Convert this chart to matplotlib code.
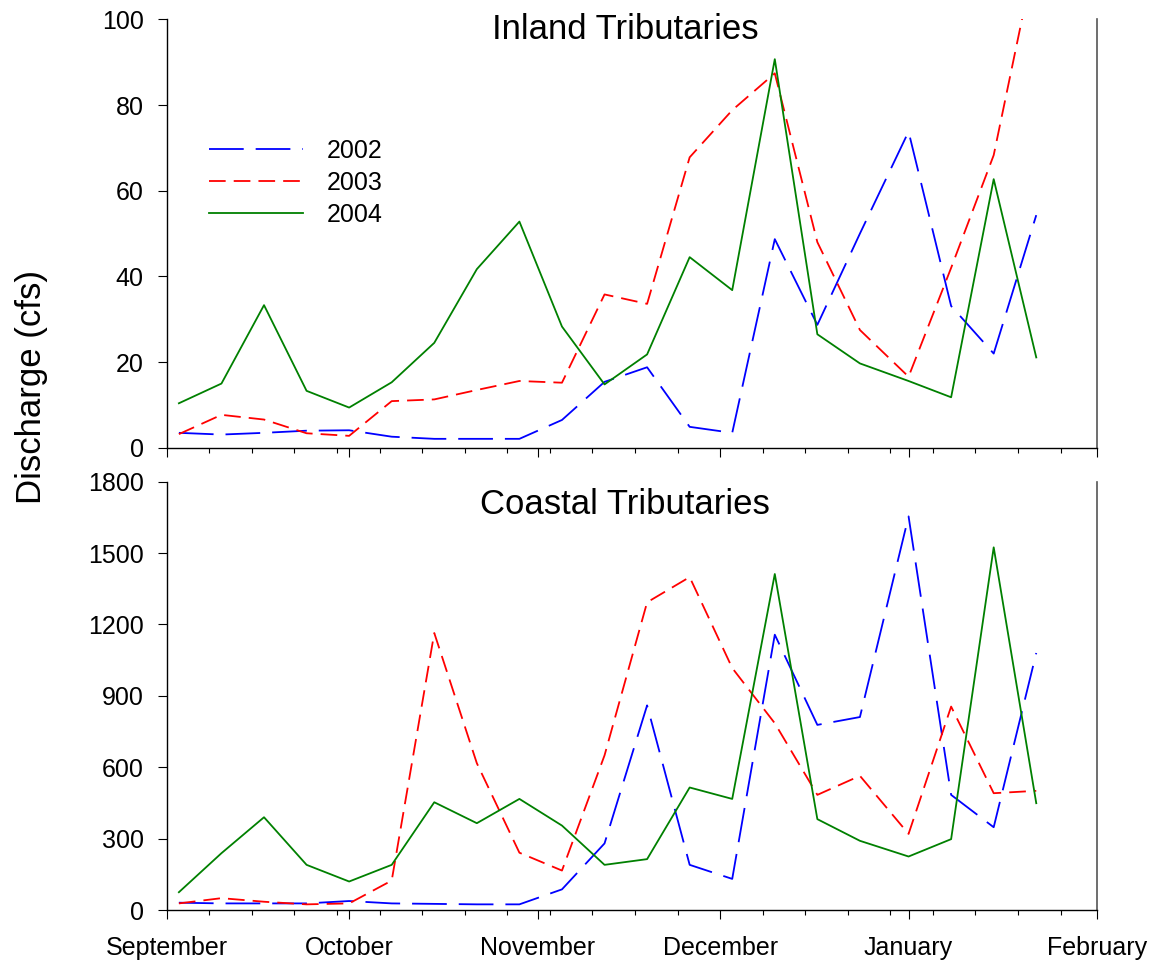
import matplotlib
matplotlib.use('Agg')
import matplotlib.pyplot as plt
from matplotlib.ticker import FixedLocator

plt.rcParams['font.family'] = ['Liberation Sans', 'DejaVu Sans']
plt.rcParams['lines.scale_dashes'] = False

# Sampling day (days since September 1)
sample_day = [2, 9, 16, 23, 30, 37, 44, 51, 58, 65, 72, 79, 86, 93, 100, 107, 114,
              122, 129, 136, 143]

# Month axis
month_start = [0, 30, 61, 91, 122, 153]
month_labels = ['September', 'October', 'November', 'December', 'January', 'February']
week_ticks = list(range(7, 153, 7))

years = ['2002', '2003', '2004']

# Inland tributaries discharge (cfs)
inland_2002 = [3.5, 3.1, 3.5, 4.0, 4.1, 2.6, 2.1, 2.1, 2.1, 6.5, 15.4, 18.8, 4.9, 3.5,
               48.7, 28.7, 50.0, 73.8, 33.1, 22.0, 54.3]
inland_2003 = [3.2, 7.7, 6.6, 3.4, 2.8, 10.9, 11.3, 13.5, 15.6, 15.2, 35.8, 33.6, 67.8,
               78.8, 87.4, 48.0, 27.5, 16.6, 42.0, 68.3, 116.0]
inland_2004 = [10.4, 15.0, 33.3, 13.3, 9.4, 15.3, 24.5, 41.7, 52.8, 28.3, 14.8, 21.8,
               44.5, 36.8, 90.7, 26.5, 19.7, 15.6, 11.8, 62.7, 21.1]

# Coastal tributaries discharge (cfs)
coastal_2002 = [31, 28, 28, 28, 38, 28, 26, 24, 24, 87, 280, 860, 190, 131, 1157, 778,
                811, 1654, 484, 348, 1080]
coastal_2003 = [28, 50, 35, 24, 28, 124, 1164, 617, 241, 166, 650, 1293, 1399, 1017,
                785, 484, 564, 320, 855, 491, 501]
coastal_2004 = [75, 239, 390, 190, 120, 190, 453, 365, 467, 355, 190, 214, 515, 467,
                1412, 382, 291, 225, 298, 1524, 449]

colors = {'2002': '#0000FF', '2003': '#FF0000', '2004': '#008000'}
dashes = {'2002': (0, (25, 8.6)), '2003': (0, (12, 5.8)), '2004': '-'}

fig = plt.figure(figsize=(11.57, 9.66), dpi=100)
ax1 = fig.add_axes([0.1441, 0.5364, 0.8041, 0.4436])
ax2 = fig.add_axes([0.1441, 0.0579, 0.8041, 0.4435])

panels = [
    (ax1, [inland_2002, inland_2003, inland_2004], 'Inland Tributaries', 100, 20, 0.9540),
    (ax2, [coastal_2002, coastal_2003, coastal_2004], 'Coastal Tributaries', 1800, 300, 0.9250),
]

for ax, series, title, ymax, ystep, ty in panels:
    for yr, vals in zip(years, series):
        ax.plot(sample_day, vals, color=colors[yr], linestyle=dashes[yr], lw=1.3, label=yr)
    ax.set_xlim(month_start[0], month_start[-1])
    ax.set_ylim(0, ymax)
    ax.set_yticks(list(range(0, ymax + 1, ystep)))
    ax.xaxis.set_major_locator(FixedLocator(month_start))
    ax.xaxis.set_minor_locator(FixedLocator(week_ticks))
    ax.set_xticklabels(month_labels)
    ax.spines['top'].set_visible(False)
    ax.spines['right'].set_color('#555555')
    ax.spines['right'].set_linewidth(1.2)
    for s in ['left', 'bottom']:
        ax.spines[s].set_linewidth(1.0)
    ax.tick_params(axis='y', which='major', length=6.7, width=0.8, direction='out',
                   labelsize=18, pad=10, right=False)
    ax.tick_params(axis='x', which='major', length=6.7, width=0.8, direction='out',
                   labelsize=18, pad=12)
    ax.tick_params(axis='x', which='minor', length=3.6, width=0.8, direction='out')
    ax.text(0.4926, ty, title, transform=ax.transAxes, ha='center', va='baseline',
            fontsize=25)

ax1.tick_params(axis='x', labelbottom=False)

ax1.legend(loc='upper left', bbox_to_anchor=(0.0458, 0.7207), frameon=False, fontsize=18,
           handlelength=3.76, handletextpad=0.94, labelspacing=0.31, borderpad=0,
           borderaxespad=0)

fig.text(32 / 1157, 1 - 387 / 966, 'Discharge (cfs)', rotation=90, ha='center',
         va='center', fontsize=25)

fig.savefig('out.png', dpi=100)
